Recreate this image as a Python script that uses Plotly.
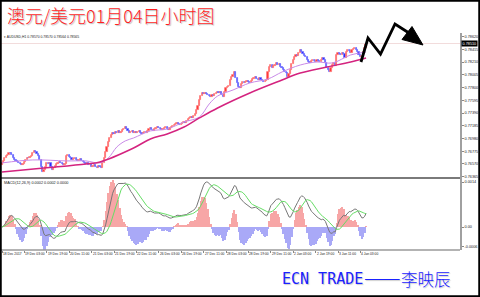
import numpy as np
import plotly.graph_objects as go

# ---------------- data ----------------
closes = [
    # 18 Dec - 19 Dec
    0.76587, 0.76619, 0.76667, 0.76699, 0.76716, 0.76748, 0.76741, 0.76716, 0.76667, 0.76635,
    0.76619, 0.76603, 0.76587, 0.76571, 0.76555, 0.76571, 0.76603, 0.76635, 0.76667, 0.76659,
    0.76683, 0.76699, 0.76748, 0.76780, 0.76764, 0.76732, 0.76699, 0.76635, 0.76522, 0.76442,
    # 19 Dec - 21 Dec
    0.76474, 0.76522, 0.76587, 0.76571, 0.76587, 0.76522, 0.76474, 0.76506, 0.76538, 0.76571,
    0.76587, 0.76603, 0.76587, 0.76571, 0.76555, 0.76571, 0.76699, 0.76716, 0.76683, 0.76667,
    0.76635, 0.76651, 0.76667, 0.76635, 0.76619, 0.76635, 0.76651, 0.76619, 0.76603, 0.76587,
    0.76571, 0.76587, 0.76555, 0.76571, 0.76522, 0.76538, 0.76555, 0.76522, 0.76506, 0.76538,
    0.76522, 0.76506,
    # jump 21 Dec
    0.76587, 0.76667, 0.76764, 0.76844, 0.76925, 0.76989, 0.77037,
    0.77070, 0.77054, 0.77086, 0.77070, 0.77102, 0.77070, 0.77086, 0.77118, 0.77134, 0.77166,
    0.77134, 0.77102, 0.77070, 0.77086, 0.77102, 0.77070,
    0.77086, 0.77070, 0.77086, 0.77102, 0.77070, 0.77054, 0.77070, 0.77086, 0.77070, 0.77102,
    0.77134, 0.77150, 0.77118, 0.77102, 0.77134, 0.77150, 0.77166,
    0.77150, 0.77134, 0.77118, 0.77134, 0.77150, 0.77166, 0.77134, 0.77118, 0.77150, 0.77166, 0.77182,
    0.77199, 0.77215, 0.77231, 0.77215, 0.77199, 0.77215, 0.77231, 0.77247, 0.77231, 0.77263,
    0.77295, 0.77311, 0.77327, 0.77311, 0.77343, 0.77376,
    # 27 Dec
    0.77439, 0.77504, 0.77601, 0.77665, 0.77714, 0.77698, 0.77714,
    0.77698, 0.77681, 0.77665, 0.77649, 0.77681, 0.77665,
    0.77698, 0.77714, 0.77730, 0.77714, 0.77730, 0.77681, 0.77649,
    0.77730, 0.77794, 0.77810, 0.77826,
    0.77923, 0.77971, 0.78003, 0.78052,
    0.77955, 0.77875, 0.77810, 0.77794,
    0.77859, 0.77891, 0.77875, 0.77891, 0.77907, 0.77891, 0.77875, 0.77907,
    0.77939, 0.77955, 0.77971, 0.77939, 0.77923, 0.77955, 0.77923,
    0.77907, 0.77891, 0.77907, 0.77923,
    # 29 Dec - 2 Jan
    0.78052, 0.78132, 0.78164, 0.78116, 0.78148, 0.78164,
    0.78197, 0.78164, 0.78181, 0.78132, 0.78116,
    0.78084, 0.78052, 0.78036, 0.77971, 0.78020,
    0.78084, 0.78181, 0.78245, 0.78293, 0.78326, 0.78309, 0.78358,
    0.78406, 0.78374, 0.78342, 0.78309, 0.78293,
    0.78245, 0.78213, 0.78197, 0.78229,
    0.78245, 0.78229, 0.78213, 0.78245, 0.78229, 0.78213, 0.78245,
    # 3 Jan - 4 Jan
    0.78277, 0.78245, 0.78197,
    0.78116, 0.78084, 0.78052, 0.78116,
    0.78164, 0.78197, 0.78148,
    0.78326, 0.78358, 0.78342, 0.78326, 0.78358, 0.78342, 0.78277,
    0.78374, 0.78406, 0.78390, 0.78358,
    0.78406, 0.78422, 0.78438, 0.78406, 0.78374,
    0.78326, 0.78293, 0.78309,
    0.78374, 0.78438, 0.78510,
]
open0 = 0.76560

fast_ma_idx = [0, 22, 46, 60, 70, 76, 82, 88, 94, 106, 118, 130, 141, 148, 154, 165, 177, 190, 200, 213, 225, 236, 249, 260]
fast_ma_val = [0.76587, 0.76635, 0.76619, 0.76619, 0.76587, 0.76667, 0.76844, 0.76941, 0.76989, 0.77102,
               0.77134, 0.77247, 0.77327, 0.77537, 0.77665, 0.77762, 0.77875, 0.77939, 0.78052, 0.78164,
               0.78213, 0.78197, 0.78326, 0.78374]

slow_ma_idx = [0, 30, 60, 70, 94, 106, 118, 130, 141, 154, 177, 200, 213, 232, 249, 260]
slow_ma_val = [0.76442, 0.76506, 0.76571, 0.76603, 0.76828, 0.76973, 0.77054, 0.77166, 0.77311, 0.77472,
               0.77714, 0.77923, 0.78036, 0.78132, 0.78213, 0.78277]

time_labels = ["18 Dec 2017", "19 Dec 03:00", "19 Dec 19:00", "20 Dec 11:00", "21 Dec 03:00",
               "21 Dec 19:00", "22 Dec 11:00", "26 Dec 03:00", "26 Dec 19:00", "27 Dec 11:00",
               "28 Dec 03:00", "28 Dec 19:00", "29 Dec 11:00", "2 Jan 03:00", "2 Jan 19:00",
               "3 Jan 11:00", "4 Jan 03:00"]
label_step = 16

price_ticks = [0.78620, 0.78415, 0.78210, 0.78005, 0.77800, 0.77595, 0.77390, 0.77185,
               0.76980, 0.76775, 0.76570, 0.76365]
macd_ticks = [0.0014, 0.0, -0.0006]
macd_tick_text = ["0.0014", "0.00", "-0.0006"]
macd_hist_scale = 2.0

title_text = "澳元/美元01月04日小时图"
header_text = "▾ AUDUSD,H1 0.78570 0.78570 0.78564 0.78565"
macd_text = "MACD(12,26,9) 0.0002 0.0002 0.0000"
sign_latin = "ECN TRADE"
sign_dash = "——"
sign_name = "李映辰"

# hand-drawn zigzag arrow, in pixels of the 480x297 image
arrow_pts = [(361, 62), (368, 38), (380.5, 54), (395, 24), (409, 33)]
arrow_head = [(423, 45), (402, 39.5), (412, 26.5)]

# ---------------- derived ----------------
W, H = 480, 297
c = np.array(closes)
o = np.concatenate([[open0], c[:-1]])
idx = np.arange(len(c))
up = c >= o


def ema(a, n):
    k = 2.0 / (n + 1)
    out = np.empty_like(a)
    out[0] = a[0]
    for t in range(1, len(a)):
        out[t] = k * a[t] + (1 - k) * out[t - 1]
    return out


main = ema(c, 12) - ema(c, 26)
signal = np.array([main[max(0, t - 8):t + 1].mean() for t in range(len(main))])
hist = (main - signal) * macd_hist_scale


def px(x, y):
    return x / W, 1 - y / H


x_dom_right = 460 / W
y1_dom = [1 - 178 / H, 1 - 33 / H]
y2_dom = [1 - 250 / H, 1 - 178 / H]
x_range = [-1.43, 327.1]
p_per_px = (price_ticks[0] - price_ticks[-1]) / 140.0
y1_range = [price_ticks[-1] - 1.3 * p_per_px, price_ticks[0] + 3.7 * p_per_px]
m_per_px = 0.0014 / 45.0
y2_range = [-23 * m_per_px, 0.0014 + 4 * m_per_px]

fig = go.Figure()

# candle bodies
fig.add_trace(go.Bar(
    x=idx, base=np.minimum(o, c), y=np.abs(c - o), width=0.85,
    marker=dict(color=np.where(up, "#ff3434", "#2424ff"),
                line=dict(color=np.where(up, "#ff7a7a", "#7070ff"), width=0.8)),
    xaxis="x", yaxis="y", showlegend=False, hoverinfo="skip"))

fig.add_trace(go.Scatter(x=fast_ma_idx, y=fast_ma_val, mode="lines",
                         line=dict(color="#c98ae8", width=1, shape="spline"),
                         xaxis="x", yaxis="y", showlegend=False))
fig.add_trace(go.Scatter(x=slow_ma_idx, y=slow_ma_val, mode="lines",
                         line=dict(color="#d4237f", width=1.5, shape="spline"),
                         xaxis="x", yaxis="y", showlegend=False))

# MACD
fig.add_trace(go.Bar(x=idx, y=hist, width=0.8,
                     marker=dict(color=np.where(hist >= 0, "#f7a6a6", "#a9a9f7"), line=dict(width=0)),
                     xaxis="x2", yaxis="y2", showlegend=False))
fig.add_trace(go.Scatter(x=idx, y=main, mode="lines", line=dict(color="#777777", width=1),
                         xaxis="x2", yaxis="y2", showlegend=False))
fig.add_trace(go.Scatter(x=idx, y=signal, mode="lines", line=dict(color="#66dd66", width=1),
                         xaxis="x2", yaxis="y2", showlegend=False))

small = dict(family="Liberation Sans, Arial", size=3.8, color="#222222")
header_font = dict(family="Liberation Sans, Arial", size=3.4, color="#222222")
tiny = dict(family="Liberation Sans, Arial", size=3.3, color="#222222")

fig.update_layout(
    width=W, height=H, margin=dict(l=0, r=0, t=0, b=0),
    paper_bgcolor="white", plot_bgcolor="white", bargap=0, barmode="overlay",
    xaxis=dict(domain=[0, x_dom_right], range=x_range, anchor="y", showgrid=False,
               zeroline=False, showticklabels=False, ticks=""),
    xaxis2=dict(domain=[0, x_dom_right], range=x_range, anchor="y2", showgrid=False,
                zeroline=False, showticklabels=False, ticks="outside", ticklen=2,
                tickcolor="#888888", tickvals=[k * label_step for k in range(len(time_labels))]),
    yaxis=dict(domain=y1_dom, range=y1_range, side="right", anchor="x", showgrid=False,
               zeroline=False, tickvals=price_ticks, ticktext=[f"{v:.5f}" for v in price_ticks],
               ticks="outside", ticklen=2, tickcolor="#888888", tickfont=small,
               showline=True, linecolor="#a0a0a0", linewidth=1.5, automargin=False),
    yaxis2=dict(domain=y2_dom, range=y2_range, side="right", anchor="x2", showgrid=False,
                zeroline=False, tickvals=macd_ticks, ticktext=macd_tick_text,
                ticks="outside", ticklen=2, tickcolor="#888888", tickfont=small,
                showline=True, linecolor="#a0a0a0", linewidth=1.5, automargin=False),
    font=dict(family="Liberation Sans, Arial"),
)

shapes = []
shapes.append(dict(type="line", xref="paper", yref="y", x0=0, x1=x_dom_right,
                   y0=closes[-1], y1=closes[-1], line=dict(color="#f2dcdc", width=1)))
for yy, col, wd in [(178, "#7a7a7a", 2), (250, "#9a9a9a", 1.5)]:
    x0, y0 = px(0, yy)
    x1, _ = px(460, yy)
    shapes.append(dict(type="line", xref="paper", yref="paper", x0=x0, x1=x1, y0=y0, y1=y0,
                       line=dict(color=col, width=wd)))
path = "M " + " L ".join(f"{px(x, y)[0]:.5f},{px(x, y)[1]:.5f}" for x, y in arrow_pts)
shapes.append(dict(type="path", xref="paper", yref="paper", path=path,
                   line=dict(color="black", width=2.8)))
head = "M " + " L ".join(f"{px(x, y)[0]:.5f},{px(x, y)[1]:.5f}" for x, y in arrow_head) + " Z"
shapes.append(dict(type="path", xref="paper", yref="paper", path=head,
                   fillcolor="black", line=dict(color="black", width=1)))
shapes.append(dict(type="rect", xref="paper", yref="paper", x0=0, x1=1, y0=0, y1=1,
                   line=dict(color="black", width=3.5)))
fig.update_layout(shapes=shapes)

sign_col = "#1a22ff"
sign_shadow = "1px 1px 1px #cccccc"
ann = []
ann.append(dict(text=title_text, xref="paper", yref="paper", x=px(5, 0)[0], y=px(0, 15)[1],
                xanchor="left", yanchor="middle", showarrow=False,
                font=dict(family="Noto Sans CJK SC", size=18, weight=300, color="#ff1f1f",
                          shadow="1px 1px 1px #bbbbbb")))
ann.append(dict(text=header_text, xref="paper", yref="paper", x=px(2, 0)[0], y=px(0, 37)[1],
                xanchor="left", yanchor="middle", showarrow=False, font=header_font))
ann.append(dict(text=macd_text, xref="paper", yref="paper", x=px(2, 0)[0], y=px(0, 183)[1],
                xanchor="left", yanchor="middle", showarrow=False, font=small))
for k, lab in enumerate(time_labels):
    ann.append(dict(text=lab, xref="x2", yref="paper", x=k * label_step, y=px(0, 254)[1],
                    xanchor="left", yanchor="middle", showarrow=False, font=tiny, xshift=-1))
ann.append(dict(text=f"{closes[-1]:.5f}", xref="paper", yref="y", x=px(461, 0)[0], y=closes[-1],
                xanchor="left", yanchor="middle", showarrow=False, bgcolor="black",
                borderpad=0.5, font=dict(family="Liberation Sans, Arial", size=3.8, color="white")))
ann.append(dict(text=sign_latin, xref="paper", yref="paper", x=px(280, 0)[0], y=px(0, 279)[1],
                xanchor="left", yanchor="middle", showarrow=False,
                font=dict(family="DejaVu Sans Mono", size=15, color=sign_col, shadow=sign_shadow)))
ann.append(dict(text=sign_dash, xref="paper", yref="paper", x=px(362, 0)[0], y=px(0, 279)[1],
                xanchor="left", yanchor="middle", showarrow=False, yshift=3,
                font=dict(family="Noto Sans CJK SC", size=22, weight=300, color=sign_col,
                          shadow=sign_shadow)))
ann.append(dict(text=sign_name, xref="paper", yref="paper", x=px(399, 0)[0], y=px(0, 279)[1],
                xanchor="left", yanchor="middle", showarrow=False,
                font=dict(family="Noto Sans CJK SC", size=16.5, weight=300, color=sign_col,
                          shadow=sign_shadow)))
fig.update_layout(annotations=ann)

fig.write_html("out.html")
